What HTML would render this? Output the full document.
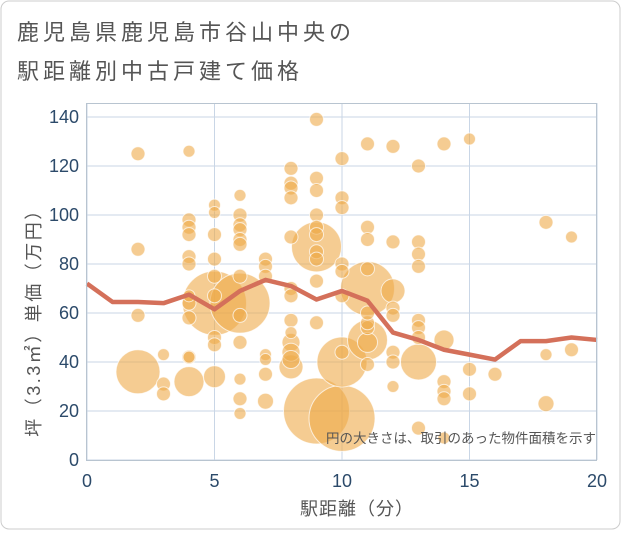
<!DOCTYPE html>
<html><head><meta charset="utf-8"><style>
body{margin:0;background:#fff;}
#wrap{position:relative;width:621px;height:530px;}
svg text{font-family:"Liberation Sans","Noto Sans CJK JP",sans-serif;}
</style></head><body>
<div id="wrap">
<svg id="chart" width="621" height="530" xmlns="http://www.w3.org/2000/svg">
<rect x="1" y="1" width="619" height="528" rx="8" fill="#fff" stroke="#ccc"/>
<text x="17" y="40" font-size="22" letter-spacing="4" fill="#555">鹿児島県鹿児島市谷山中央の</text>
<text x="17" y="79" font-size="22" letter-spacing="4" fill="#555">駅距離別中古戸建て価格</text>
<g id="grid"></g>
<g id="bubbles"></g>
<g id="line"></g>
<rect x="86.5" y="103.5" width="510" height="357" fill="none" stroke="#b8c4d0"/>
<g id="axes"></g>
<text x="596" y="443" font-size="13.5" fill="#555" text-anchor="end">円の大きさは、取引のあった物件面積を示す</text>
<text x="357" y="515" font-size="18" letter-spacing="1" fill="#555" text-anchor="middle">駅距離（分）</text>
<text transform="translate(40,318) rotate(-90)" font-size="18" letter-spacing="2.5" fill="#555" text-anchor="middle">坪（3.3㎡）単価（万円）</text>
</svg>
</div>
<script>
const xTicks=[0,5,10,15,20];
const yTicks=[0,20,40,60,80,100,120,140];
const lineX=[0,1,2,3,4,5,6,7,8,9,10,11,12,13,14,15,16,17,18,19,20];
const lineY=[72,64.5,64.5,64,67.5,61.5,69,73.5,71,65.5,69,65,52,49,45,43,41,48.5,48.5,50,49];
const bubX=[2,2,2,2,3,3,3,4,4,4,4,4,4,4,4,4,4,4,4,5,5,5,5,5,5,5,5,5,5,6,6,6,6,6,6,6,6,6,6,6,6,6,7,7,7,7,7,7,7,8,8,8,8,8,8,8,8,8,8,8,8,8,9,9,9,9,9,9,9,9,9,9,9,9,10,10,10,10,10,10,10,10,10,11,11,11,11,11,11,11,11,11,11,11,12,12,12,12,12,12,12,12,13,13,13,13,13,13,13,13,13,14,14,14,14,14,14,15,15,15,16,18,18,18,19,19];
const bubY=[125,86,59,36,43,31,27,126,98,95,92,83,80,67,64,58,42,32,42,104,101,92,82,75,67,64,50,47,34,108,100,96,94,90,88,75,64,59,48,33,25,19,82,79,75,43,41,35,24,119,113,111,107,91,70,67,57,52,48,44,41,38,139,115,110,100,95,87,92,85,82,73,56,20,123,107,103,80,77,67,44,40,17,129,95,90,78,70,49,54,56,60,48,39,128,89,69,62,59,44,40,30,120,89,84,79,57,54,50,40,13,129,49,32,28,25,9,131,37,27,35,97,43,23,91,45];
const bubR=[7,7,7,22,6,7,7,6,7,7,7,7,7,6,7,7,7,15,6,6,6,7,7,7,7,32,7,7,11,6,7,7,7,7,7,7,30,7,7,6,7,6,7,7,7,6,6,7,8,7,7,7,7,7,7,7,7,6,9,9,9,12,7,7,7,7,7,25,7,7,7,7,7,33,7,7,7,7,7,7,7,25,33,7,7,7,7,27,20,7,7,7,10,7,7,7,12,7,7,7,7,6,7,7,7,7,7,7,7,18,7,7,10,7,7,7,6,6,7,7,7,7,6,8,6,7];
const NS="http://www.w3.org/2000/svg";
const X0=87,X1=597,Y0=460,Y1=103;
function sx(v){return X0+(v-0)/20*(X1-X0);}
function sy(v){return Y0-(v/145.7)*(Y0-Y1);}
const grid=document.getElementById('grid'),axes=document.getElementById('axes');
xTicks.forEach(t=>{
 const l=document.createElementNS(NS,'line');
 l.setAttribute('x1',sx(t));l.setAttribute('x2',sx(t));l.setAttribute('y1',Y1);l.setAttribute('y2',Y0);
 l.setAttribute('stroke','#c9d6e6');l.setAttribute('stroke-width','1');
 
 
 grid.appendChild(l);
 const tx=document.createElementNS(NS,'text');
 tx.setAttribute('x',sx(t));tx.setAttribute('y',487);tx.setAttribute('text-anchor','middle');
 tx.setAttribute('font-size','18');tx.setAttribute('fill','#2c4a6a');tx.textContent=t;
 
 
 axes.appendChild(tx);
});
yTicks.forEach(t=>{
 const l=document.createElementNS(NS,'line');
 l.setAttribute('x1',X0);l.setAttribute('x2',X1);l.setAttribute('y1',sy(t));l.setAttribute('y2',sy(t));
 l.setAttribute('stroke','#c9d6e6');l.setAttribute('stroke-width','1');
 
 
 grid.appendChild(l);
 const tx=document.createElementNS(NS,'text');
 tx.setAttribute('x',79);tx.setAttribute('y',sy(t)+6);tx.setAttribute('text-anchor','end');
 tx.setAttribute('font-size','18');tx.setAttribute('fill','#2c4a6a');tx.textContent=t;
 
 
 axes.appendChild(tx);
});
const bg=document.getElementById('bubbles');
const idx=bubR.map((r,i)=>i).sort((a,b)=>bubR[b]-bubR[a]);
idx.forEach(i=>{
 const c=document.createElementNS(NS,'circle');
 c.setAttribute('cx',sx(bubX[i]));c.setAttribute('cy',sy(bubY[i]));c.setAttribute('r',bubR[i]);
 c.setAttribute('fill','#eeaa4a');c.setAttribute('fill-opacity','0.6');
 c.setAttribute('stroke','#fff');c.setAttribute('stroke-opacity','0.7');c.setAttribute('stroke-width','1');
 
 
 bg.appendChild(c);
});
const p=document.createElementNS(NS,'polyline');
p.setAttribute('points',lineX.map((x,i)=>sx(x)+','+sy(lineY[i])).join(' '));
p.setAttribute('fill','none');p.setAttribute('stroke','#d4705a');p.setAttribute('stroke-width','4.5');
p.setAttribute('stroke-linejoin','round');


document.getElementById('line').appendChild(p);
</script>
</body></html>
